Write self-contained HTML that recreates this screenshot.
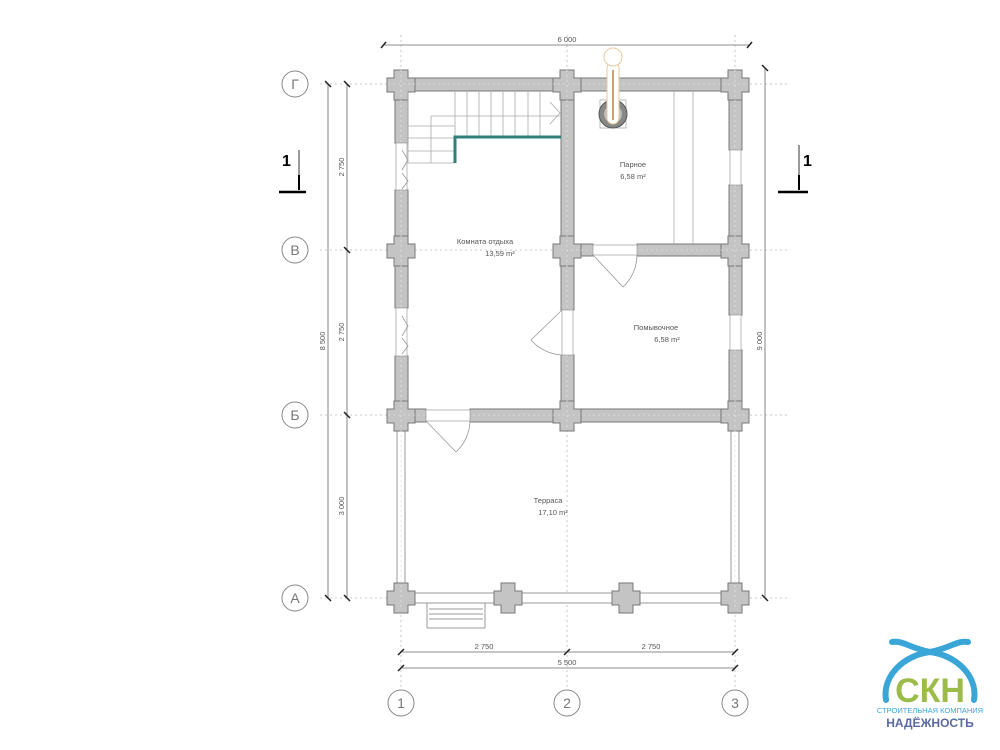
<!DOCTYPE html>
<html><head><meta charset="utf-8"><style>
html,body{margin:0;padding:0;background:#fff;width:1000px;height:750px;overflow:hidden}
svg text{font-family:"Liberation Sans",sans-serif;fill:#555}
</style></head><body>
<svg width="1000" height="750" viewBox="0 0 1000 750" xmlns="http://www.w3.org/2000/svg">
<g stroke="#c8c8c8" stroke-width="1" stroke-dasharray="2,3">
<line x1="320" y1="84" x2="790" y2="84"/>
<line x1="320" y1="250" x2="790" y2="250"/>
<line x1="320" y1="415" x2="790" y2="415"/>
<line x1="320" y1="598" x2="790" y2="598"/>
<line x1="401" y1="35" x2="401" y2="690"/>
<line x1="567" y1="35" x2="567" y2="690"/>
<line x1="735" y1="35" x2="735" y2="690"/>
</g>
<g stroke="#666" stroke-width="0.8">
<line x1="383" y1="45" x2="750" y2="45"/>
<line x1="328" y1="84" x2="328" y2="598"/>
<line x1="347" y1="84" x2="347" y2="598"/>
<line x1="765" y1="68" x2="765" y2="598"/>
<line x1="401" y1="652" x2="735" y2="652"/>
<line x1="401" y1="668" x2="735" y2="668"/>
</g>
<g stroke="#222" stroke-width="1.5">
<line x1="381" y1="48" x2="386" y2="42"/><line x1="747" y1="48" x2="752" y2="42"/>
<line x1="325" y1="81" x2="331" y2="87"/><line x1="325" y1="595" x2="331" y2="601"/>
<line x1="344" y1="81" x2="350" y2="87"/><line x1="344" y1="247" x2="350" y2="253"/><line x1="344" y1="412" x2="350" y2="418"/><line x1="344" y1="595" x2="350" y2="601"/>
<line x1="762" y1="65" x2="768" y2="71"/><line x1="762" y1="595" x2="768" y2="601"/>
<line x1="398" y1="655" x2="404" y2="649"/><line x1="564" y1="655" x2="570" y2="649"/><line x1="732" y1="655" x2="738" y2="649"/>
<line x1="398" y1="671" x2="404" y2="665"/><line x1="732" y1="671" x2="738" y2="665"/>
</g>
<g font-size="7.5">
<text x="567" y="42" text-anchor="middle">6 000</text>
<text x="484" y="649" text-anchor="middle">2 750</text>
<text x="651" y="649" text-anchor="middle">2 750</text>
<text x="567" y="665" text-anchor="middle">5 500</text>
<text transform="translate(325,341) rotate(-90)" text-anchor="middle">8 500</text>
<text transform="translate(344,167) rotate(-90)" text-anchor="middle">2 750</text>
<text transform="translate(344,332) rotate(-90)" text-anchor="middle">2 750</text>
<text transform="translate(344,506) rotate(-90)" text-anchor="middle">3 000</text>
<text transform="translate(762,341) rotate(-90)" text-anchor="middle">9 000</text>
</g>
<g fill="#fff" stroke="#888" stroke-width="1">
<circle cx="295" cy="84" r="13"/><circle cx="295" cy="250" r="13"/><circle cx="295" cy="415" r="13"/><circle cx="295" cy="598" r="13"/>
<circle cx="401" cy="703" r="13"/><circle cx="567" cy="703" r="13"/><circle cx="735" cy="703" r="13"/>
</g>
<g font-size="14" text-anchor="middle">
<text x="295" y="89" style="fill:#777">Г</text><text x="295" y="255" style="fill:#777">В</text><text x="295" y="420" style="fill:#777">Б</text><text x="295" y="603" style="fill:#777">А</text>
<text x="401" y="708" style="fill:#777">1</text><text x="567" y="708" style="fill:#777">2</text><text x="735" y="708" style="fill:#777">3</text>
</g>
<g stroke="#000">
<line x1="299" y1="150" x2="299" y2="188" stroke-width="0.8"/><line x1="299" y1="175" x2="299" y2="190" stroke-width="2"/>
<line x1="279" y1="192" x2="306" y2="192" stroke-width="2.5"/>
<line x1="799" y1="145" x2="799" y2="188" stroke-width="0.8"/><line x1="799" y1="175" x2="799" y2="190" stroke-width="2"/>
<line x1="778" y1="192" x2="808" y2="192" stroke-width="2.5"/>
</g>
<text x="282" y="166" font-size="16" font-weight="bold" style="fill:#000">1</text>
<text x="803" y="166" font-size="16" font-weight="bold" style="fill:#000">1</text>
<g fill="#fff" stroke="#999" stroke-width="1">
<rect x="397" y="422" width="8" height="170"/>
<rect x="731" y="422" width="8" height="170"/>
<rect x="405" y="593" width="326" height="10"/>
</g>
<g stroke="#999" fill="none" stroke-width="1">
<rect x="427" y="603" width="58" height="25" rx="1"/>
<line x1="429" y1="609" x2="483" y2="609"/><line x1="429" y1="614" x2="483" y2="614"/><line x1="429" y1="619" x2="483" y2="619"/>
</g>
<g fill="#c4c4c4" stroke="#777" stroke-width="1">
<rect x="388" y="78" width="360" height="13"/>
<rect x="395" y="78" width="13" height="65"/>
<rect x="395" y="190" width="13" height="118"/>
<rect x="395" y="356" width="13" height="66"/>
<rect x="561" y="78" width="13" height="232"/>
<rect x="561" y="355" width="13" height="67"/>
<rect x="729" y="78" width="13" height="72"/>
<rect x="729" y="185" width="13" height="130"/>
<rect x="729" y="350" width="13" height="72"/>
<rect x="561" y="244" width="32" height="12"/>
<rect x="637" y="244" width="105" height="12"/>
<rect x="388" y="409" width="38" height="13"/>
<rect x="470" y="409" width="278" height="13"/>
</g>
<g fill="#c4c4c4" stroke="#777" stroke-width="1">
<path d="M394,70 h14 v8 h7 v14 h-7 v8 h-14 v-8 h-7 v-14 h7z"/>
<path d="M560,70 h14 v8 h7 v14 h-7 v8 h-14 v-8 h-7 v-14 h7z"/>
<path d="M728,70 h14 v8 h7 v14 h-7 v8 h-14 v-8 h-7 v-14 h7z"/>
<path d="M394,236 h14 v8 h7 v14 h-7 v8 h-14 v-8 h-7 v-14 h7z"/>
<path d="M560,236 h14 v8 h7 v14 h-7 v8 h-14 v-8 h-7 v-14 h7z"/>
<path d="M728,236 h14 v8 h7 v14 h-7 v8 h-14 v-8 h-7 v-14 h7z"/>
<path d="M394,401 h14 v8 h7 v14 h-7 v8 h-14 v-8 h-7 v-14 h7z"/>
<path d="M560,401 h14 v8 h7 v14 h-7 v8 h-14 v-8 h-7 v-14 h7z"/>
<path d="M728,401 h14 v8 h7 v14 h-7 v8 h-14 v-8 h-7 v-14 h7z"/>
<path d="M394,583 h14 v8 h7 v14 h-7 v8 h-14 v-8 h-7 v-14 h7z"/>
<path d="M501,583 h14 v8 h7 v14 h-7 v8 h-14 v-8 h-7 v-14 h7z"/>
<path d="M619,583 h14 v8 h7 v14 h-7 v8 h-14 v-8 h-7 v-14 h7z"/>
<path d="M728,583 h14 v8 h7 v14 h-7 v8 h-14 v-8 h-7 v-14 h7z"/>
</g>
<g stroke="#e0e0e0" stroke-width="0.8" stroke-dasharray="2,3">
<line x1="388" y1="84" x2="748" y2="84"/><line x1="388" y1="415" x2="748" y2="415"/><line x1="561" y1="250" x2="748" y2="250"/>
<line x1="401" y1="70" x2="401" y2="610"/><line x1="567" y1="70" x2="567" y2="430"/><line x1="735" y1="70" x2="735" y2="610"/>
</g>
<g fill="#fff" stroke="#aaa" stroke-width="0.8">
<rect x="396" y="143" width="11" height="47"/>
<rect x="396" y="308" width="11" height="48"/>
<rect x="730" y="150" width="11" height="35"/>
<rect x="730" y="315" width="11" height="35"/>
<rect x="562" y="310" width="11" height="45"/>
<rect x="593" y="245" width="44" height="10"/>
<rect x="426" y="410" width="44" height="11"/>
</g>
<g fill="none" stroke="#999" stroke-width="0.8">
<path d="M562,310 L531,340 A44,44 0 0,0 562,355"/>
<path d="M593,255 L623,287 A44,44 0 0,0 637,255"/>
<path d="M426,421 L456,452 A44,44 0 0,0 470,421"/>
<path d="M402,150 l6,10 l-6,10 M402,173 l6,8 l-6,8"/>
<path d="M402,316 l6,10 l-6,10 M402,338 l6,8 l-6,8"/>
</g>
<g stroke="#aaa" stroke-width="0.8" fill="none">
<line x1="408" y1="90" x2="408" y2="163"/>
<path d="M408,163 H455 M408,151 H455 M408,138 H455 M408,126 H455"/>
<path d="M431,116 V163 M431,116 H560"/>
<line x1="455" y1="90" x2="455" y2="137"/>
<line x1="467" y1="90" x2="467" y2="137"/><line x1="479" y1="90" x2="479" y2="137"/><line x1="491" y1="90" x2="491" y2="137"/>
<line x1="503" y1="90" x2="503" y2="137"/><line x1="515" y1="90" x2="515" y2="137"/><line x1="528" y1="90" x2="528" y2="137"/><line x1="540" y1="90" x2="540" y2="137"/>
<path d="M550,102 L560,113 L550,124"/>
</g>
<path d="M455,163 V137 H561" fill="none" stroke="#2f7f7a" stroke-width="3"/>
<g stroke="#aaa" stroke-width="0.8"><line x1="674" y1="91" x2="674" y2="244"/><line x1="693" y1="91" x2="693" y2="244"/></g>
<rect x="600" y="100" width="26" height="28" fill="none" stroke="#aaa" stroke-width="0.8"/>
<circle cx="613" cy="114" r="14" fill="#888" stroke="#555"/>
<circle cx="613" cy="114" r="9" fill="#bbb"/>
<rect x="607" y="62" width="12" height="62" rx="6" fill="#fff" stroke="#e6c89a"/>
<circle cx="613" cy="57" r="9" fill="#fff" stroke="#e6c89a"/>
<line x1="613" y1="70" x2="613" y2="120" stroke="#b07020" stroke-width="1.3"/>
<g font-size="7.5" text-anchor="middle">
<text x="485" y="244">Комната отдыха</text><text x="500" y="256">13,59 m²</text>
<text x="633" y="167">Парное</text><text x="633" y="179">6,58 m²</text>
<text x="656" y="330">Помывочное</text><text x="667" y="342">6,58 m²</text>
<text x="548" y="503">Терраса</text><text x="553" y="515">17,10 m²</text>
</g>
<g fill="none" stroke="#3aa6d8" stroke-width="6" stroke-linecap="round">
<path d="M886,700 C882,675 905,655 930,652 C950,648 958,640 968,642"/>
<path d="M974,700 C978,675 955,655 930,652 C910,648 902,640 892,642"/>
</g>
<text x="930" y="702" text-anchor="middle" font-size="34" font-weight="bold" style="fill:#9cbc4a">СКН</text>
<text x="930" y="713" text-anchor="middle" font-size="7.5" style="fill:#3aa6d8">СТРОИТЕЛЬНАЯ КОМПАНИЯ</text>
<text x="930" y="727" text-anchor="middle" font-size="12" font-weight="bold" style="fill:#5a6aa0">НАДЁЖНОСТЬ</text>
</svg>
</body></html>
